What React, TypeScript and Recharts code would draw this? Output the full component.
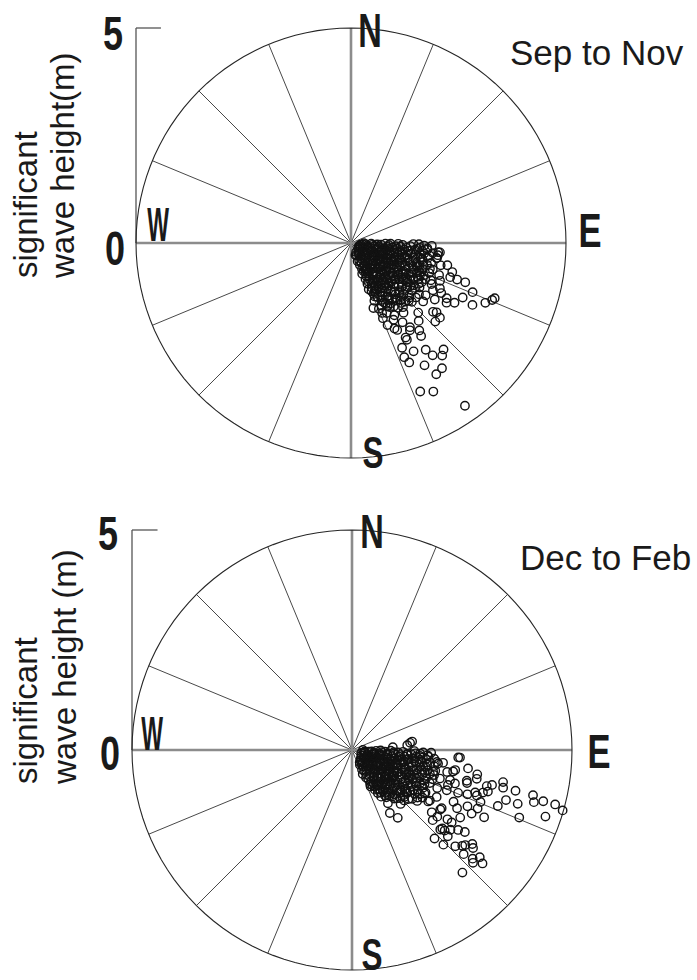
import React from 'react';
import { ScatterChart, Scatter, XAxis, YAxis, ReferenceLine } from 'recharts';

// ---- data: [wave direction (deg, clockwise from N), significant wave height (m)] ----
const sepNovObs: [number, number][] = [
  [100,0.22],[118,0.25],[135,0.28],[150,0.24],[160,0.3],[95,0.35],
  [104,0.4],[122,0.42],[140,0.38],[155,0.45],[92,0.47],[128,0.33],[112,0.3],
  [98,0.55],[110,0.52],[126,0.58],[138,0.5],[148,0.6],[158,0.55],[117,0.63],
  [93,0.7],[103,0.72],[114,0.68],[124,0.75],[133,0.7],[143,0.73],[152,0.69],[160,0.76],
  [96,0.85],[106,0.82],[112,0.9],[121,0.84],[129,0.88],[137,0.81],[146,0.9],[155,0.86],[91,0.92],[101,0.95],[117,0.97],[141,0.96],[150,0.99],
  [94,1.05],[99,1.02],[108,1.06],[115,1.03],[123,1.08],[130,1.01],[136,1.1],[144,1.04],[153,1.07],[158,1.02],[104,1.12],[126,1.14],[148,1.15],
  [92,1.2],[97,1.25],[102,1.22],[111,1.28],[119,1.21],[128,1.24],[133,1.3],[140,1.22],[146,1.27],[152,1.23],[156,1.3],[107,1.18],[124,1.32],
  [93,1.38],[100,1.42],[105,1.35],[113,1.45],[118,1.37],[127,1.4],[135,1.43],[142,1.36],[149,1.44],[154,1.4],[96,1.5],[122,1.5],[138,1.52],
  [91,1.58],[99,1.62],[104,1.55],[109,1.64],[116,1.58],[125,1.6],[131,1.56],[144,1.62],[151,1.58],[157,1.66],[112,1.7],[120,1.68],[134,1.7],
  [94,1.78],[101,1.82],[107,1.76],[114,1.85],[118,1.78],[128,1.8],[137,1.86],[146,1.78],[153,1.83],[97,1.92],[111,1.95],[123,1.9],[130,1.97],[141,1.92],
  [96,2.04],[100,2.02],[108,1.93],[115,2.05],[117,2.1],[125,2.12],[129,2.16],[134,1.97],[143,2.03],[151,2.04],[153,2.23],[156,2.09],[104,2.15],[120,2.2],
  [108,0.2],[125,0.2],[143,0.3],[155,0.32],[91,0.3],[100,0.38],[113,0.4],[131,0.44],[148,0.42],[160,0.45],
  [94,0.58],[104,0.6],[115,0.5],[121,0.56],[132,0.6],[143,0.55],[153,0.62],
  [98,0.66],[108,0.7],[119,0.74],[128,0.66],[138,0.68],[148,0.78],[156,0.72],
  [91,0.8],[102,0.84],[110,0.78],[116,0.82],[125,0.92],[133,0.86],[142,0.84],[151,0.8],[158,0.9],
  [96,0.98],[106,0.96],[112,1.0],[120,0.94],[128,1.06],[134,0.96],[140,1.05],[147,1.02],[156,0.98],
  [91,1.1],[101,1.1],[110,1.14],[117,1.12],[121,1.16],[131,1.16],[139,1.14],[144,1.18],[151,1.14],[159,1.15],
  [95,1.3],[104,1.28],[109,1.22],[115,1.25],[122,1.28],[130,1.32],[137,1.28],[143,1.3],[149,1.34],[157,1.22],
  [91,1.45],[98,1.35],[103,1.48],[108,1.44],[116,1.42],[121,1.4],[125,1.48],[131,1.46],[140,1.44],[146,1.5],[152,1.5],[158,1.45],
  [94,1.6],[102,1.65],[107,1.6],[113,1.58],[119,1.6],[128,1.66],[136,1.62],[141,1.66],[147,1.58],[154,1.62],
  [92,1.7],[98,1.72],[105,1.72],[110,1.78],[117,1.74],[124,1.76],[132,1.82],[139,1.76],[150,1.7],[156,1.78],
  [92,1.88],[104,1.92],[116,1.92],[121,1.84],[127,1.98],[135,1.9],[144,1.86],[149,1.96],
  [97,0.27],[113,0.22],[130,0.24],[146,0.34],[121,0.34],[139,0.45],[106,0.48],[95,0.5],[126,0.48],[152,0.52],
  [101,0.62],[112,0.6],[119,0.58],[130,0.65],[140,0.62],[150,0.7],[157,0.65],[93,0.62],
  [99,0.78],[105,0.76],[113,0.76],[121,0.76],[127,0.72],[135,0.76],[141,0.78],[149,0.74],[154,0.79],
  [93,0.88],[99,0.88],[108,0.9],[115,0.92],[122,0.9],[127,0.84],[131,0.94],[139,0.9],[144,0.88],[153,0.94],
  [97,1.08],[103,1.02],[111,1.06],[118,1.06],[125,1.02],[133,1.06],[138,1.01],[145,1.1],[150,1.06],[155,1.14],
  [94,1.15],[99,1.18],[106,1.22],[113,1.18],[120,1.26],[126,1.2],[132,1.22],[136,1.18],[142,1.25],[148,1.2],[154,1.25],
  [97,1.4],[102,1.32],[107,1.38],[112,1.36],[119,1.46],[124,1.42],[129,1.34],[134,1.38],[139,1.32],[145,1.38],[151,1.4],[156,1.36],
  [95,1.55],[100,1.52],[106,1.5],[111,1.54],[118,1.52],[123,1.56],[129,1.52],[134,1.58],[139,1.58],[145,1.55],[150,1.62],
  [96,1.66],[103,1.7],[108,1.68],[114,1.68],[122,1.62],[126,1.7],[130,1.66],[137,1.72],[142,1.7],[147,1.68],
  [99,1.85],[106,1.84],[113,1.74],[119,1.88],[125,1.82],[133,1.86],[140,1.82],
  [112,3.54],[111,3.58],[112,3.05],[109,2.81],[109,2.61],[116,2.89],[120,2.78],[122,2.62],[114,3.42],[117,3.17],[98,2.04],[129,2.56],[130,2.7],[133,2.68],
  [142,2.58],[143,2.71],[145,2.39],[150,2.54],[150,2.6],[154,2.71],[150,2.91],[155,2.93],[154,3.09],[145,3.03],[144,3.23],[139,3.28],[141,3.37],[149,3.32],
  [144,3.6],[147,3.64],[155,3.81],[151,3.95],[145,4.62],
  [152,2.29],[157,1.9],[161,1.6],[149,1.74],
  [109,2.44],[117,2.32],[120,2.57],[100,2.03],[108,2.0],[115,1.77],[130,2.49],[96,2.08],[95,1.78],
  [103,2.3],[106,2.45],[113,2.25],[119,2.4],[124,2.35],[110,2.18],[136,2.25],[139,2.4],[147,2.2],[146,2.45],
];

const decFebObs: [number, number][] = [
  [98,0.28],[115,0.3],[132,0.27],[148,0.33],[106,0.36],[140,0.38],
  [94,0.45],[103,0.48],[112,0.44],[122,0.47],[134,0.5],[145,0.46],[153,0.5],
  [97,0.62],[107,0.58],[117,0.63],[127,0.6],[138,0.57],[149,0.64],[92,0.55],
  [93,0.75],[101,0.72],[110,0.78],[119,0.74],[126,0.8],[133,0.73],[142,0.79],[151,0.76],[105,0.84],[115,0.86],[137,0.87],[147,0.9],
  [95,0.95],[99,0.92],[108,0.98],[113,0.94],[121,1.0],[129,0.96],[135,1.02],[141,0.97],[150,1.04],[153,0.93],[102,1.06],[118,1.08],[125,1.1],[145,1.1],
  [92,1.16],[97,1.2],[104,1.18],[111,1.22],[116,1.15],[123,1.24],[130,1.19],[137,1.22],[143,1.17],[148,1.25],[100,1.28],[127,1.3],[144,1.27],
  [94,1.35],[98,1.4],[106,1.33],[109,1.42],[114,1.36],[120,1.4],[125,1.44],[132,1.37],[139,1.4],[144,1.33],[146,1.46],
  [93,1.55],[96,1.62],[101,1.5],[104,1.6],[110,1.57],[116,1.52],[122,1.58],[128,1.53],[135,1.55],[112,1.66],[119,1.68],[128,1.59],[149,1.67],
  [95,1.75],[99,1.8],[103,1.72],[107,1.85],[113,1.78],[118,1.83],[125,1.74],[131,1.7],[138,1.65],[101,1.9],[110,1.95],[121,1.92],[128,1.88],[116,1.72],[126,1.84],[146,1.86],
  [90,0.25],[108,0.22],[125,0.32],[140,0.3],[152,0.38],[118,0.38],[96,0.38],
  [99,0.52],[108,0.5],[117,0.52],[128,0.48],[140,0.5],[150,0.55],[91,0.65],
  [102,0.64],[112,0.66],[122,0.62],[132,0.66],[143,0.66],[153,0.7],
  [96,0.8],[106,0.75],[114,0.8],[122,0.82],[130,0.84],[140,0.78],[149,0.84],[91,0.88],
  [104,0.9],[110,0.92],[117,0.96],[126,0.94],[133,0.92],[139,0.95],[145,0.98],[152,0.88],
  [93,1.05],[98,1.08],[107,1.05],[114,1.05],[121,1.12],[128,1.05],[133,1.12],[140,1.08],[147,1.06],
  [95,1.25],[102,1.2],[108,1.26],[113,1.3],[119,1.26],[125,1.2],[134,1.28],[140,1.25],[146,1.16],
  [91,1.42],[96,1.46],[102,1.38],[108,1.48],[113,1.45],[118,1.46],[123,1.36],[129,1.42],[136,1.4],[141,1.34],
  [92,1.62],[98,1.56],[103,1.66],[107,1.54],[114,1.6],[120,1.55],[125,1.62],[131,1.56],[137,1.5],
  [92,1.8],[97,1.7],[105,1.78],[109,1.7],[115,1.82],[122,1.76],[129,1.76],[134,1.65],[104,1.95],[96,1.88],[113,1.92],
  [102,0.3],[120,0.25],[136,0.33],[110,0.4],[128,0.4],[146,0.4],[97,0.5],[114,0.55],[124,0.55],[136,0.6],[146,0.58],[156,0.6],
  [94,0.68],[100,0.65],[108,0.68],[115,0.7],[124,0.7],[130,0.7],[137,0.72],[147,0.72],
  [98,0.82],[103,0.8],[111,0.86],[118,0.84],[124,0.88],[132,0.8],[135,0.86],[144,0.84],[150,0.92],
  [93,0.95],[101,0.98],[106,0.92],[112,1.0],[119,0.94],[124,1.0],[131,1.02],[138,1.02],[143,1.0],[148,0.98],
  [96,1.1],[103,1.12],[109,1.1],[116,1.08],[122,1.06],[127,1.12],[132,1.16],[136,1.1],[142,1.12],[149,1.14],
  [94,1.26],[99,1.3],[106,1.22],[110,1.3],[117,1.24],[121,1.3],[128,1.26],[132,1.28],[138,1.32],[142,1.24],
  [93,1.45],[100,1.44],[105,1.42],[111,1.38],[116,1.44],[121,1.48],[126,1.5],[131,1.46],[134,1.42],[139,1.46],
  [95,1.55],[100,1.6],[106,1.64],[112,1.52],[117,1.62],[123,1.66],[127,1.56],[132,1.6],
  [94,1.72],[101,1.74],[107,1.72],[111,1.8],[117,1.78],[123,1.84],[107,1.95],[99,1.98],
  [83,1.33],[82,1.38],[85,1.26],[86,0.93],
  [124,1.93],[120,1.93],[123,2.11],[119,2.2],[123,2.43],[128,2.3],
  [103,2.22],[107,2.33],[108,2.1],[105,1.91],[110,2.32],[108,2.46],[111,2.81],[110,3.02],[112,3.15],
  [94,2.46],[101,2.9],[107,3.23],[131,2.79],[126,2.8],[130,3.36],
  [124,2.09],[128,2.46],[126,2.68],[132,2.7],[132,2.93],[129,2.88],[127,3.02],[119,2.73],[116,2.92],[118,3.08],[108,3.13],[104,3.28],
  [113,2.34],[114,2.12],[112,2.6],[102,2.35],[98,2.09],[98,1.95],[106,2.72],
  [94,2.42],[99,2.67],[101,2.39],[105,2.7],[103,2.91],[105,3.17],[102,3.51],[104,3.54],[104,3.83],[104,4.24],[106,4.3],[105,4.5],[105,4.78],[106,4.98],
  [109,4.65],[108,3.96],[108,3.68],[111,3.55],[112,4.1],[109,2.96],[117,3.37],[115,3.15],[117,2.59],[124,2.42],[131,2.43],[131,2.72],[137,2.75],[136,2.99],
  [133,3.21],[131,3.32],[128,3.47],[129,3.54],[133,3.47],[132,3.69],[130,3.79],[131,3.93],[133,3.76],[138,3.75],[126,3.17],[122,2.9],
];

const spokeBearings = [0, 22.5, 45, 67.5, 90, 112.5, 135, 157.5, 180, 202.5, 225, 247.5, 270, 292.5, 315, 337.5];
const compassNames = ['N', 'E', 'S', 'W'];
const compassBearings = [0, 90, 180, 270];
const heightTicks = [0, 5];
const maxHeight = 5;

// ---- layout ----
type Cfg = {
  title: string;
  obs: [number, number][];
  top: number;
  height: number;
  margin: { top: number; right: number; bottom: number; left: number };
  yAxisWidth: number;
  yLabel: string[];
  yLabelX: number[];
  yLabelStart: number;
  titleOffset: [number, number];
  compassOffset: Record<string, [number, number]>;
  tickOffset: Record<number, [number, number]>;
};

const sepNovCfg: Cfg = {
  title: 'Sep to Nov',
  obs: sepNovObs,
  top: 0,
  height: 490,
  margin: { top: 28, right: 131, bottom: 32, left: 0 },
  yAxisWidth: 136,
  yLabel: ['significant', 'wave height(m)'],
  yLabelX: [37, 74],
  yLabelStart: 278,
  titleOffset: [-56, 37],
  compassOffset: { N: [19, 19], E: [24, 4], S: [22, 10], W: [22, -2] },
  tickOffset: { 5: [-23, 22], 0: [-21, 22] },
};

const decFebCfg: Cfg = {
  title: 'Dec to Feb',
  obs: decFebObs,
  top: 490,
  height: 490,
  margin: { top: 40, right: 125, bottom: 10, left: 0 },
  yAxisWidth: 132,
  yLabel: ['significant', 'wave height (m)'],
  yLabelX: [37, 76],
  yLabelStart: 784,
  titleOffset: [-52, 40],
  compassOffset: { N: [20, 18], E: [27, 18], S: [20, 0], W: [20, 0] },
  tickOffset: { 5: [-24, 20], 0: [-22, 20] },
};

const letterStretch: Record<string, number> = { N: 0.68, E: 0.72, S: 0.7, W: 0.48, '0': 0.75, '5': 0.75 };

const toXY = (bearing: number, h: number) => {
  const r = (bearing * Math.PI) / 180;
  return { x: h * Math.sin(r), y: h * Math.cos(r) };
};

const ringPts = Array.from({ length: 121 }, (_, i) => toXY(i * 3, maxHeight));

const sansFont = "'Liberation Sans', Arial, Helvetica, sans-serif";

const ObsMark = (p: any) => (
  <circle cx={p.cx} cy={p.cy} r={4.2} fill="none" stroke="#121212" strokeWidth={1.4} />
);

const TextMark = (p: any) => {
  const d = p.payload;
  const x = p.cx + d.dx;
  const y = p.cy + d.dy;
  return (
    <text
      x={0}
      y={0}
      transform={`translate(${x}, ${y}) scale(${d.sx}, 1)`}
      textAnchor={d.anchor}
      fontFamily={sansFont}
      fontSize={d.size}
      fontWeight={d.weight}
      fill="#1a1a1a"
    >
      {d.text}
    </text>
  );
};

const AxisTitle = (props: any) => {
  const { cfg } = props;
  const startY = cfg.yLabelStart - cfg.top;
  return (
    <g>
      {cfg.yLabel.map((line: string, i: number) => (
        <text
          key={line}
          x={cfg.yLabelX[i]}
          y={startY}
          transform={`rotate(-90, ${cfg.yLabelX[i]}, ${startY})`}
          textAnchor="start"
          fontFamily={sansFont}
          fontSize={33}
          fill="#1a1a1a"
        >
          {line}
        </text>
      ))}
    </g>
  );
};

function WaveRose({ cfg }: { cfg: Cfg }) {
  const points = cfg.obs.map(([d, h]) => ({ ...toXY(d, h), dir: d, hs: h }));
  const labels = [
    ...compassNames.map((n, i) => ({
      ...toXY(compassBearings[i], maxHeight),
      text: n,
      dx: cfg.compassOffset[n][0],
      dy: cfg.compassOffset[n][1],
      anchor: 'middle',
      size: n === 'S' ? 45 : 48,
      sx: letterStretch[n],
      weight: 'bold',
    })),
    ...heightTicks.map((t) => ({
      x: -maxHeight,
      y: t,
      text: String(t),
      dx: cfg.tickOffset[t][0],
      dy: cfg.tickOffset[t][1],
      anchor: 'middle',
      size: 48,
      sx: letterStretch[String(t)],
      weight: 'bold',
    })),
    {
      x: maxHeight,
      y: maxHeight,
      text: cfg.title,
      dx: cfg.titleOffset[0],
      dy: cfg.titleOffset[1],
      anchor: 'start',
      size: 35,
      sx: 1,
      weight: 'normal',
    },
  ];
  return (
    <div style={{ position: 'absolute', left: 0, top: cfg.top }}>
      <ScatterChart width={697} height={cfg.height} margin={cfg.margin}>
        <XAxis type="number" dataKey="x" domain={[-maxHeight, maxHeight]} hide />
        <YAxis
          type="number"
          dataKey="y"
          domain={[-maxHeight, maxHeight]}
          width={cfg.yAxisWidth}
          axisLine={false}
          tickLine={false}
          tick={false}
          label={<AxisTitle cfg={cfg} />}
        />
        {spokeBearings
          .filter((b) => b % 90 !== 0)
          .map((b) => (
            <ReferenceLine
              key={b}
              segment={[{ x: 0, y: 0 }, toXY(b, maxHeight)]}
              stroke="#333"
              strokeWidth={0.9}
            />
          ))}
        <ReferenceLine segment={[{ x: 0, y: -maxHeight }, { x: 0, y: maxHeight }]} stroke="#8c8c8c" strokeWidth={2.6} />
        <ReferenceLine segment={[{ x: -maxHeight, y: 0 }, { x: maxHeight, y: 0 }]} stroke="#8c8c8c" strokeWidth={2.6} />
        <ReferenceLine segment={[{ x: -maxHeight, y: 0 }, { x: -maxHeight, y: maxHeight }]} stroke="#555" strokeWidth={1.3} />
        <ReferenceLine segment={[{ x: -maxHeight, y: maxHeight }, { x: -maxHeight + 0.58, y: maxHeight }]} stroke="#555" strokeWidth={1.3} />
        <Scatter
          data={ringPts}
          line={{ stroke: '#262626', strokeWidth: 1.1 }}
          lineJointType="linear"
          shape={() => <g />}
          isAnimationActive={false}
          legendType="none"
        />
        <Scatter data={points} shape={ObsMark} isAnimationActive={false} />
        <Scatter data={labels} shape={TextMark} isAnimationActive={false} legendType="none" />
      </ScatterChart>
    </div>
  );
}

export default function App() {
  return (
    <div style={{ position: 'absolute', left: 0, top: 0, width: 697, height: 980, background: '#fff' }}>
      <WaveRose cfg={sepNovCfg} />
      <WaveRose cfg={decFebCfg} />
    </div>
  );
}
